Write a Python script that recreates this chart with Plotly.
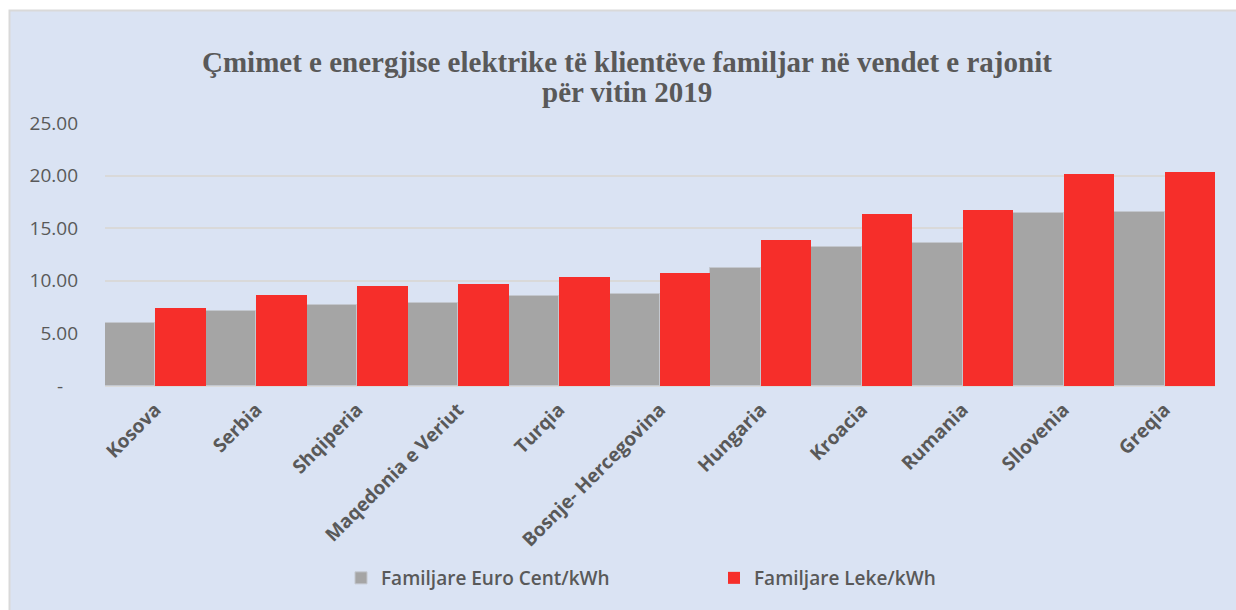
import plotly.graph_objects as go

# Household electricity prices in the region, 2019
countries = ["Kosova", "Serbia", "Shqiperia", "Maqedonia e Veriut", "Turqia",
             "Bosnje- Hercegovina", "Hungaria", "Kroacia", "Rumania",
             "Sllovenia", "Greqia"]
euro_cent = [5.95, 7.15, 7.66, 7.85, 8.55, 8.71, 11.18, 13.23, 13.58, 16.40, 16.55]
leke = [7.41, 8.64, 9.50, 9.69, 10.35, 10.73, 13.87, 16.33, 16.71, 20.13, 20.32]

series_names = ["Familjare Euro Cent/kWh", "Familjare Leke/kWh"]
y_ticks = [0, 5, 10, 15, 20, 25]
y_ticktext = ["-\u00a0\u00a0\u00a0", "5.00", "10.00", "15.00", "20.00", "25.00"]
title_lines = ["Çmimet e energjise elektrike të klientëve familjar në vendet e rajonit",
               "për vitin 2019"]

TEXT = "#595959"
GRID = "#D9D9D9"
BG = "#DAE3F3"

fig = go.Figure()
fig.add_trace(go.Bar(
    x=countries, y=euro_cent, name=series_names[0],
    marker=dict(color="#A5A5A5", line=dict(color="#C3C7CE", width=1)),
    legend="legend",
))
fig.add_trace(go.Bar(
    x=countries, y=leke, name=series_names[1],
    marker=dict(color="#F62E2A", line=dict(width=0)),
    legend="legend2",
))

W, H = 1236, 610
L, R, T, B = 105, 21, 123, 224
pw, ph = W - L - R, H - T - B


def px_x(px):
    return (px - L) / pw


def px_y(py):
    return (H - B - py) / ph


legend_font = dict(family="Open Sans", size=19, color=TEXT, weight=600)
title_font = dict(family="Liberation Serif", size=29, color=TEXT)

fig.update_layout(
    width=W, height=H,
    margin=dict(l=L, r=R, t=T, b=B),
    paper_bgcolor="white",
    plot_bgcolor="rgba(0,0,0,0)",
    barmode="group", bargap=0, bargroupgap=0,
    showlegend=True,
    legend=dict(orientation="h", x=px_x(341), y=px_y(578), xanchor="left",
                yanchor="middle", font=legend_font, bgcolor="rgba(0,0,0,0)"),
    legend2=dict(orientation="h", x=px_x(714), y=px_y(578), xanchor="left",
                 yanchor="middle", font=legend_font, bgcolor="rgba(0,0,0,0)"),
    xaxis=dict(
        type="category", tickangle=-45, showgrid=False, showline=False,
        ticks="", ticklabelstandoff=8,
        tickfont=dict(family="Open Sans", size=19, color=TEXT, weight=700),
    ),
    yaxis=dict(
        range=[0, 25], tickvals=y_ticks, ticktext=y_ticktext,
        showgrid=True, gridcolor=GRID, gridwidth=2,
        zeroline=True, zerolinecolor=GRID, zerolinewidth=2,
        showline=False, ticks="", ticklabelstandoff=26,
        tickfont=dict(family="Open Sans", size=19, color=TEXT),
    ),
    shapes=[dict(
        type="rect", xref="paper", yref="paper", layer="below",
        x0=px_x(9.5), x1=px_x(W + 20), y0=px_y(H + 20), y1=px_y(10.5),
        fillcolor=BG, line=dict(color=GRID, width=2),
    )],
    annotations=[
        dict(text=f"<b>{title_lines[0]}</b>", xref="paper", yref="paper",
             x=px_x(627), y=px_y(62), xanchor="center", yanchor="middle",
             showarrow=False, font=title_font),
        dict(text=f"<b>{title_lines[1]}</b>", xref="paper", yref="paper",
             x=px_x(627), y=px_y(92), xanchor="center", yanchor="middle",
             showarrow=False, font=title_font),
    ],
)

fig.write_html("out.html")
